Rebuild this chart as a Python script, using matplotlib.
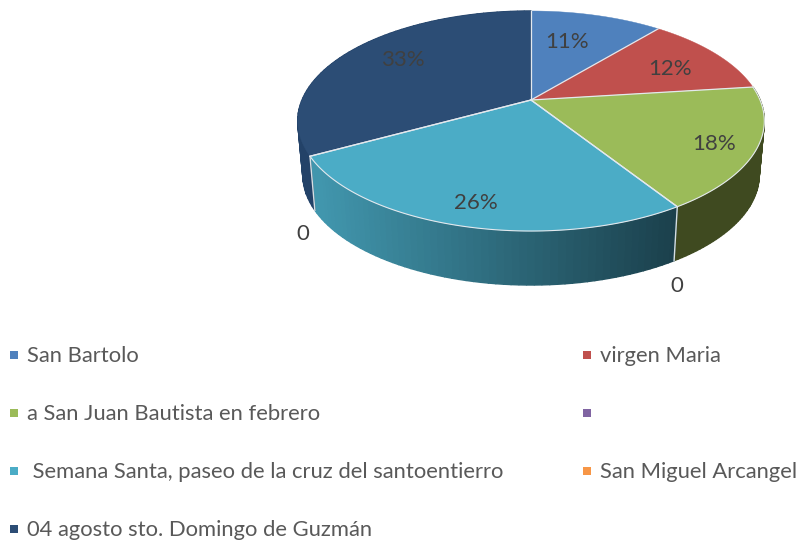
import numpy as np
import matplotlib
matplotlib.use('Agg')
import matplotlib.pyplot as plt
from matplotlib.patches import Polygon, Rectangle

# Donnees du graphique
categories = ['San Bartolo', 'virgen Maria', 'a San Juan Bautista en febrero', '',
              ' Semana Santa, paseo de la cruz del santoentierro', 'San Miguel Arcangel',
              '04 agosto sto. Domingo de Guzmán']
values = [11, 12, 18, 0, 26, 0, 33]
colors = ['#4F81BD', '#C0504D', '#9BBB59', '#8064A2', '#4BACC6', '#F79646', '#2C4D75']
zero_labels = ['0', '0']

plt.rcParams['font.family'] = ['Lato', 'DejaVu Sans']

fig = plt.figure(figsize=(8.01, 5.41), dpi=100)
ax = fig.add_axes([0, 0, 1, 1])
ax.set_xlim(0, 801)
ax.set_ylim(541, 0)
ax.axis('off')

# Projection perspective du disque
cx, cy = 531, 100
k, a, b = 0.191, 106, 229
depth, shrink = 54, 0.978


def top_rim(frac):
    t = 2 * np.pi * np.asarray(frac)
    x, y = np.sin(t), np.cos(t)
    w = 1 + k * y
    return cx + b * x / w, cy - a * y / w


def low_rim(frac):
    x, y = top_rim(frac)
    return cx + (x - cx) * shrink, y + depth


total = sum(values)
fracs = np.cumsum([0] + values) / total

# Cotes en premier
side_colors = {2: ('#3F4A20', '#3F4A20'), 4: ('#4196AD', '#1B404C'), 6: ('#234268', '#234268')}
for i, (c0, c1) in side_colors.items():
    f0, f1 = fracs[i], fracs[i + 1]
    ts = np.linspace(f0, f1, 60)
    col0 = np.array(matplotlib.colors.to_rgb(c0))
    col1 = np.array(matplotlib.colors.to_rgb(c1))
    for j in range(len(ts) - 1):
        seg = np.array([ts[j], ts[j + 1]])
        xt, yt = top_rim(seg)
        xb, yb = low_rim(seg)
        # le degrade suit x de droite a gauche sur le cote bleu
        s = np.clip((xt[0] - 320) / (678 - 320), 0, 1)
        col = col0 + (col1 - col0) * s
        ax.add_patch(Polygon([(xt[0], yt[0]), (xt[1], yt[1]), (xb[1], yb[1]), (xb[0], yb[0])],
                             facecolor=col, edgecolor=col, linewidth=1.0, zorder=2))

# separations sur le cote
for f in [fracs[3], fracs[5]]:
    xt, yt = top_rim(f)
    xb, yb = low_rim(f)
    ax.plot([xt, xb], [yt, yb], color='#D5DEE2', lw=1.0, zorder=3)

# Faces du dessus
for i, v in enumerate(values):
    if v == 0:
        continue
    ts = np.linspace(fracs[i], fracs[i + 1], 120)
    x, y = top_rim(ts)
    pts = [(cx, cy)] + list(zip(x, y))
    ax.add_patch(Polygon(pts, closed=True, facecolor=colors[i], edgecolor=colors[i],
                         linewidth=0.3, zorder=4))
    # bord clair du bas seulement
    if i in (2, 4):
        ax.plot(x, y, color='#E4E9EE', lw=0.8, zorder=4.5)

# rayons clairs entre les parts
for f in fracs[:-1]:
    xr, yr = top_rim(f)
    ax.plot([cx, xr], [cy, yr], color='#E4E9EE', lw=0.9, zorder=4.6)

# Etiquettes
pct_pos = {0: (567, 42), 1: (670, 69), 2: (714, 144), 4: (476, 203), 6: (403, 60)}
for i, (x, y) in pct_pos.items():
    ax.text(x, y, f'{values[i]}%', color='#404040', fontsize=16, ha='center', va='center', zorder=5)
ax.text(677, 286, zero_labels[0], color='#404040', fontsize=16, ha='center', va='center')
ax.text(303, 234, zero_labels[1], color='#404040', fontsize=16, ha='center', va='center')

# Legende
leg_x = [14, 587]
leg_y = [355, 413, 471, 529]
for i, name in enumerate(categories):
    lx = leg_x[i % 2]
    ly = leg_y[i // 2]
    ax.add_patch(Rectangle((lx - 4, ly - 4), 8, 8, facecolor=colors[i], edgecolor='none'))
    ax.text(lx + 13, ly + 1, name, color='#595959', fontsize=15.8, ha='left', va='center')

plt.savefig('out.png', dpi=100)
plt.close()
